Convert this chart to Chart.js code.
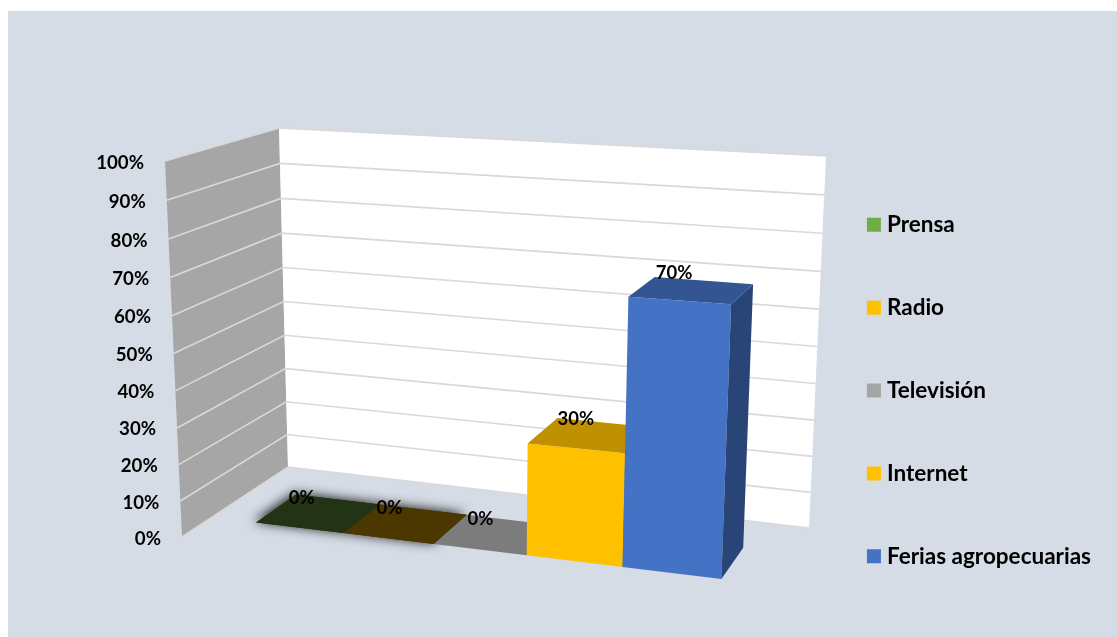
<!DOCTYPE html>
<html>
<head>
<meta charset="utf-8">
<title>Chart</title>
<style>html,body{margin:0;padding:0;background:#fff}canvas{display:block}</style>
<script src="https://cdn.jsdelivr.net/npm/chart.js@4"></script>
</head>
<body>
<canvas id="c" width="1117" height="637"></canvas>
<script>
const categories = ['Medio'];
const seriesNames = ['Prensa', 'Radio', 'Televisión', 'Internet', 'Ferias agropecuarias'];
const seriesValues = [0, 0, 0, 30, 70];
const seriesColors = ['#70AD47', '#FFC000', '#A5A5A5', '#FFC000', '#4472C4'];
const topShades = [0.3, 0.29, 0.75, 0.75, 0.75];
const drawOrder = [2, 0, 1, 3, 4];
const labelNudge = [-11, -8, -4, 0, 0];
const FONT = 'Lato';

// Corners of the projected box (layout only)
const A = [182, 537], B = [165, 161], C = [288, 467], D = [279, 128];
const E = [809, 528], F = [826, 156], G = [759, 608], H = [776, 195];
const W0 = 0.285, W1 = 0.68, RU = 1.096, RV = 1.049;

const lerp = (p, q, t) => [p[0] + (q[0] - p[0]) * t, p[1] + (q[1] - p[1]) * t];
const persp = (t, r) => t / (t + (1 - t) * r);
function P(u, v, w) {
  const fu = persp(u, RU), gv = persp(v, RV);
  const floor = lerp(lerp(A, G, fu), lerp(C, E, fu), w);
  const top = lerp(lerp(B, H, fu), lerp(D, F, fu), w);
  return lerp(floor, top, gv);
}
function quad(ctx, pts, fill) {
  ctx.beginPath();
  pts.forEach((p, i) => i ? ctx.lineTo(p[0], p[1]) : ctx.moveTo(p[0], p[1]));
  ctx.closePath();
  ctx.fillStyle = fill;
  ctx.fill();
}
function shade(hex, k) {
  const n = parseInt(hex.slice(1), 16);
  return `rgb(${Math.round((n >> 16 & 255) * k)},${Math.round((n >> 8 & 255) * k)},${Math.round((n & 255) * k)})`;
}

const box3d = {
  id: 'box3d',
  beforeDraw(chart) {
    const ctx = chart.ctx;
    ctx.save();
    ctx.fillStyle = '#fff';
    ctx.fillRect(0, 0, chart.width, chart.height);
    ctx.fillStyle = '#D6DCE5';
    ctx.fillRect(8, 11, chart.width - 8, chart.height - 11);
    ctx.restore();
  },
  beforeDatasetDraw() { return false; },
  afterDatasetsDraw(chart) {
    const ctx = chart.ctx, area = chart.chartArea, y = chart.scales.y;
    const vOf = px => (y.bottom - px) / (y.bottom - y.top);
    ctx.save();
    // walls
    quad(ctx, [P(0,0,0), P(0,1,0), P(0,1,1), P(0,0,1)], '#A6A6A6');
    quad(ctx, [P(0,0,1), P(0,1,1), P(1,1,1), P(1,0,1)], '#FFFFFF');
    // grid lines
    ctx.strokeStyle = '#D9D9D9';
    ctx.lineWidth = 1.6;
    y.ticks.forEach(t => {
      const v = vOf(y.getPixelForValue(t.value));
      const a = P(0, v, 0), b = P(0, v, 1), c = P(1, v, 1);
      ctx.beginPath();
      ctx.moveTo(a[0], a[1]); ctx.lineTo(b[0], b[1]); ctx.lineTo(c[0], c[1]);
      ctx.stroke();
    });
    // tick labels
    ctx.fillStyle = '#000';
    ctx.font = `bold 18.7px ${FONT}`;
    ctx.textAlign = 'right';
    ctx.textBaseline = 'middle';
    y.ticks.forEach(t => {
      const v = vOf(y.getPixelForValue(t.value));
      const a = P(0, v, 0);
      ctx.fillText(t.label, a[0] - 21, a[1] + 1.5);
    });
    // bars
    const geo = i => {
      const el = chart.getDatasetMeta(i).data[0];
      return {
        u0: (el.x - el.width / 2 - area.left) / area.width,
        u1: (el.x + el.width / 2 - area.left) / area.width,
        v: vOf(el.y), v0: vOf(el.base)
      };
    };
    const drawBar = i => {
      const g = geo(i), col = seriesColors[i];
      if (g.v > g.v0) {
        quad(ctx, [P(g.u0,g.v0,W0), P(g.u1,g.v0,W0), P(g.u1,g.v,W0), P(g.u0,g.v,W0)], col);
        quad(ctx, [P(g.u1,g.v0,W0), P(g.u1,g.v0,W1), P(g.u1,g.v,W1), P(g.u1,g.v,W0)], shade(col, 0.6));
      }
      quad(ctx, [P(g.u0,g.v,W0), P(g.u1,g.v,W0), P(g.u1,g.v,W1), P(g.u0,g.v,W1)], shade(col, topShades[i]));
    };
    drawOrder.forEach(i => {
      if (topShades[i] < 0.5) {
        ctx.save();
        ctx.shadowColor = 'rgba(0,0,0,0.9)';
        ctx.shadowBlur = 12;
        ctx.shadowOffsetX = -2;
        ctx.shadowOffsetY = -1;
        drawBar(i);
        ctx.restore();
      }
    });
    drawOrder.forEach(drawBar);
    // data labels
    ctx.fillStyle = '#000';
    ctx.font = `bold 18.5px ${FONT}`;
    ctx.textAlign = 'center';
    seriesValues.forEach((val, i) => {
      const g = geo(i);
      const p = P(g.u0 + (g.u1 - g.u0) * 0.2, g.v, W1);
      ctx.fillText(val + '%', p[0] + labelNudge[i], p[1] + 2 - val * 0.1);
    });
    ctx.restore();
  }
};

new Chart(document.getElementById('c'), {
  type: 'bar',
  data: {
    labels: categories,
    datasets: seriesNames.map((n, i) => ({
      label: n,
      data: [seriesValues[i]],
      backgroundColor: seriesColors[i],
      categoryPercentage: 0.83,
      barPercentage: 1
    }))
  },
  options: {
    responsive: false,
    animation: false,
    layout: { padding: { left: 165, top: 25, bottom: 9, right: 16 } },
    scales: {
      x: { display: false },
      y: {
        display: false, min: 0, max: 100,
        ticks: { stepSize: 10, callback: v => v + '%' }
      }
    },
    plugins: {
      tooltip: { enabled: false },
      legend: {
        position: 'right',
        align: 'end',
        labels: {
          usePointStyle: true,
          pointStyle: 'rect',
          boxWidth: 3.5,
          boxHeight: 14,
          padding: 60.4,
          color: '#000',
          font: { family: FONT, size: 22.5, weight: 'bold' }
        }
      }
    }
  },
  plugins: [box3d]
});
</script>
</body>
</html>
